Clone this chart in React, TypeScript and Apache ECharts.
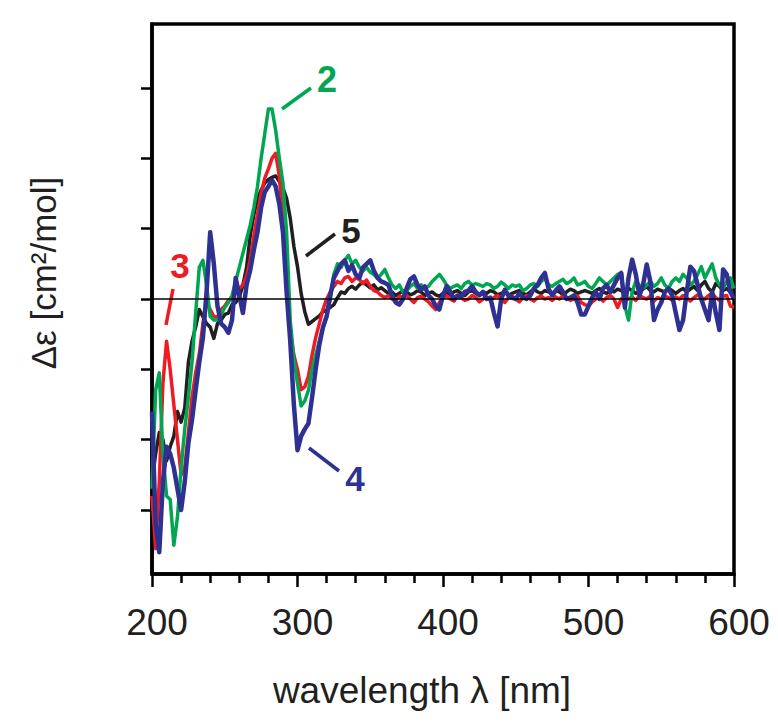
import React, { useEffect, useRef } from "react";
import * as echarts from "echarts";

// wavelength grid: 200 .. 600 nm, 2.5 nm step (161 points)
const LAMBDA_START = 200;
const LAMBDA_STEP = 2.5;

// Δε values (arbitrary units, tick spacing = 1), 10 per row
const curve5Black = [
  -2.6, -2.2, -1.9, -2.0, -2.3, -2.1, -1.95, -1.6, -1.75, -1.55,
  -0.9, -0.6, -0.4, -0.15, -0.25, -0.35, -0.4, -0.56, -0.35, -0.3,
  -0.22, -0.2, -0.08, -0.05, 0.03, 0.2, 0.45, 0.9, 1.2, 1.42,
  1.55, 1.65, 1.7, 1.73, 1.75, 1.67, 1.58, 1.43, 1.15, 0.75,
  0.46, 0.08, -0.18, -0.36, -0.32, -0.28, -0.24, -0.18, -0.16, -0.12,
  -0.08, 0.02, 0.1, 0.08, 0.15, 0.18, 0.14, 0.2, 0.24, 0.2,
  0.16, 0.2, 0.13, 0.16, 0.12, 0.08, 0.1, 0.05, 0.08, 0.12,
  0.1, 0.06, 0.08, 0.12, 0.1, 0.05, 0.08, 0.1, 0.06, 0.04,
  0.08, 0.1, 0.06, 0.1, 0.12, 0.08, 0.05, 0.1, 0.12, 0.08,
  0.06, 0.1, 0.08, 0.12, 0.1, 0.06, 0.08, 0.1, 0.05, 0.08,
  0.1, 0.12, 0.08, 0.06, 0.1, 0.14, 0.1, 0.08, 0.12, 0.1,
  0.08, 0.12, 0.1, 0.06, 0.1, 0.14, 0.12, 0.08, 0.1, 0.12,
  0.1, 0.08, 0.12, 0.15, 0.1, 0.08, 0.12, 0.1, 0.14, 0.12,
  0.1, 0.15, 0.12, 0.08, 0.1, 0.14, 0.18, 0.12, 0.1, 0.14,
  0.12, 0.1, 0.15, 0.12, 0.08, 0.12, 0.15, 0.1, 0.14, 0.18,
  0.12, 0.2, 0.25, 0.15, 0.1, 0.22, 0.18, 0.12, 0.15, 0.1,
  0.08,
];

const curve3Red = [
  -2.8, -3.55, -2.6, -1.2, -0.6, -1.0, -1.5, -2.0, -2.5, -2.4,
  -1.9, -1.4, -1.05, -0.78, -0.35, -0.05, -0.15, -0.25, -0.26, -0.15,
  -0.1, -0.02, 0.0, 0.08, 0.15, 0.2, 0.32, 0.55, 0.9, 1.2,
  1.5, 1.72, 1.85, 2.0, 2.07, 1.75, 1.1, 0.3, -0.45, -0.8,
  -1.0, -1.29, -1.25, -1.1, -0.8, -0.55, -0.35, -0.15, 0.0, 0.1,
  0.18, 0.25, 0.22, 0.3, 0.32, 0.25, 0.3, 0.28, 0.22, 0.27,
  0.18, 0.12, 0.1, 0.05, 0.02, 0.05, 0.0, -0.03, 0.04, 0.02,
  0.05, 0.0, -0.05, 0.02, 0.04, 0.0, -0.04, -0.1, -0.15, -0.05,
  0.02, 0.05, 0.0, -0.03, 0.04, 0.02, -0.02, 0.0, 0.05, 0.02,
  -0.04, 0.0, 0.03, -0.02, 0.02, 0.05, 0.0, -0.05, 0.02, 0.04,
  0.0, -0.04, 0.02, 0.05, 0.0, -0.03, 0.02, 0.04, 0.0, 0.02,
  -0.02, 0.03, 0.0, 0.05, 0.02, -0.02, 0.0, 0.04, -0.05, -0.08,
  -0.1, -0.04, 0.0, 0.03, -0.03, 0.02, 0.05, 0.0, -0.12, 0.0,
  0.04, 0.0, 0.03, -0.02, 0.05, 0.02, 0.0, 0.04, -0.03, 0.02,
  0.0, 0.04, 0.02, -0.02, 0.03, 0.0, 0.05, 0.02, -0.03, 0.02,
  0.06, 0.02, 0.0, 0.05, 0.08, 0.02, -0.02, 0.04, 0.05, -0.1,
  -0.12,
];

const curve2Green = [
  -2.7, -1.3, -1.05, -2.2, -2.8, -2.85, -3.5, -3.1, -2.4, -1.85,
  -1.4, -0.9, -0.2, 0.45, 0.55, 0.2, -0.25, -0.3, -0.3, -0.22,
  -0.12, -0.05, 0.05, 0.25, 0.45, 0.65, 0.85, 1.05, 1.3, 1.6,
  2.0, 2.35, 2.7, 2.7, 2.4, 2.0, 1.65, 0.95, -0.3, -0.85,
  -1.2, -1.52, -1.45, -1.3, -1.0, -0.8, -0.6, -0.42, -0.25, 0.0,
  0.35, 0.5, 0.45, 0.55, 0.62, 0.5, 0.55, 0.45, 0.4, 0.45,
  0.38, 0.35, 0.3, 0.35, 0.42, 0.3, 0.2, 0.15, 0.2, 0.1,
  0.12, 0.18, 0.22, 0.15, 0.2, 0.15, 0.18, 0.25, 0.3, 0.35,
  0.28, 0.2, 0.15, 0.18, 0.2, 0.15, 0.22, 0.25, 0.2, 0.22,
  0.2, 0.18, 0.22, 0.2, 0.15, 0.18, 0.24, 0.2, 0.15, 0.2,
  0.18, 0.2, 0.12, 0.15, 0.2, 0.22, 0.18, 0.25, 0.3, 0.2,
  0.18, 0.22, 0.25, 0.28, 0.22, 0.25, 0.3, 0.2, 0.22, 0.25,
  0.18, 0.15, 0.22, 0.3, 0.25, 0.2, 0.25, 0.3, 0.35, 0.37,
  -0.1, -0.3, 0.1, 0.25, 0.2, 0.15, 0.2, 0.25, 0.18, 0.22,
  0.3, 0.2, 0.15, 0.25, 0.3, 0.25, 0.35, 0.3, 0.2, 0.25,
  0.35, 0.46, 0.3, 0.4, 0.5, 0.3, 0.2, 0.15, 0.25, 0.3,
  0.15,
];

const curve4Blue = [
  -1.6, -3.2, -3.6, -2.6, -2.1, -2.2, -2.4, -2.7, -3.0, -2.6,
  -2.05, -1.72, -1.3, -0.9, -0.55, 0.1, 0.95, 0.5, -0.1, -0.35,
  -0.4, -0.48, -0.3, 0.3, 0.05, -0.2, 0.2, 0.41, 0.7, 0.95,
  1.3, 1.52, 1.6, 1.69, 1.6, 1.35, 0.95, 0.1, -0.6, -1.5,
  -2.15, -1.95, -1.85, -1.77, -1.4, -1.0, -0.65, -0.4, -0.25, 0.05,
  0.3, 0.4, 0.5, 0.55, 0.4, 0.48, 0.35, 0.3, 0.45, 0.5,
  0.55, 0.4, 0.3, 0.25, 0.23, 0.2, 0.05, -0.05, -0.08, 0.0,
  0.15, 0.28, 0.32, 0.2, 0.13, 0.18, 0.05, 0.0, -0.1, -0.15,
  0.05, 0.18, 0.1, 0.0, 0.05, 0.04, 0.1, 0.12, 0.18, 0.1,
  0.05, 0.1, 0.0, 0.02, -0.2, -0.39, 0.0, 0.13, 0.05, 0.02,
  0.0, 0.08, 0.02, 0.0, 0.05, 0.15, 0.2, 0.3, 0.37, 0.15,
  0.05, 0.12, 0.18, 0.1, 0.0, 0.02, 0.05, -0.05, -0.22, -0.22,
  -0.1, 0.02, 0.1, 0.0, 0.15, 0.2, 0.1, 0.2, 0.3, 0.37,
  -0.12, 0.3, 0.56, 0.35, 0.05, 0.2, 0.49, 0.25, -0.3, -0.15,
  -0.05, 0.1, 0.15, 0.05, -0.2, -0.44, -0.3, 0.1, 0.46, 0.4,
  0.2, 0.0, -0.15, -0.3, 0.1, -0.2, -0.44, 0.42, 0.35, 0.1,
  0.0,
];

const xTickValues = [200, 300, 400, 500, 600];
const yTickValues = [-3, -2, -1, 0, 1, 2, 3];

const FONT = "'Liberation Sans', Arial, Helvetica, sans-serif";
const TEXT_COLOR = "#231f20";
const C_GREEN = "#00a651";
const C_RED = "#ed1c24";
const C_BLUE = "#2e3192";
const C_BLACK = "#231f20";

function toPairs(values: number[]) {
  return values.map((v, i) => [LAMBDA_START + i * LAMBDA_STEP, v]);
}

export default function App() {
  const ref = useRef<HTMLDivElement>(null);

  useEffect(() => {
    document.body.style.margin = "0";
    if (!ref.current) return;
    const chart = echarts.init(ref.current, null, { renderer: "svg" });

    const lineSeries = (name: string, values: number[], color: string, width: number, z: number) => ({
      name,
      type: "line",
      data: toPairs(values),
      showSymbol: false,
      symbol: "none",
      lineStyle: { color, width, join: "round" },
      itemStyle: { color },
      z,
      silent: true,
    });

    const annText = (text: string, x: number, y: number, fill: string, size: number) => ({
      type: "text",
      x,
      y,
      style: {
        text,
        fill,
        fontSize: size,
        fontWeight: "bold",
        fontFamily: FONT,
        align: "center",
        verticalAlign: "middle",
        textAlign: "center",
        textVerticalAlign: "middle",
      },
    });

    chart.setOption({
      animation: false,
      backgroundColor: "#ffffff",
      grid: {
        left: 152,
        right: 44,
        top: 24,
        bottom: 153,
        show: true,
        borderColor: "#000",
        borderWidth: 3.5,
        backgroundColor: "transparent",
      },
      xAxis: {
        type: "value",
        min: 200,
        max: 600,
        interval: 100,
        axisLine: { show: true, onZero: false, lineStyle: { color: "#000", width: 3.5 } },
        axisTick: { show: true, inside: false, length: 13, lineStyle: { color: "#000", width: 2.5 } },
        minorTick: { show: true, splitNumber: 5, length: 9, lineStyle: { color: "#000", width: 2.5 } },
        splitLine: { show: false },
        minorSplitLine: { show: false },
        axisLabel: {
          show: true,
          margin: 30,
          fontSize: 37,
          fontFamily: FONT,
          color: TEXT_COLOR,
          padding: [0, 0, 0, 10],
          customValues: xTickValues,
        },
      },
      yAxis: {
        type: "value",
        min: -3.91,
        max: 3.91,
        axisLine: { show: true, onZero: false, lineStyle: { color: "#000", width: 3.5 } },
        axisTick: {
          show: true,
          inside: false,
          length: 11,
          lineStyle: { color: "#000", width: 2.5 },
          customValues: yTickValues,
        },
        axisLabel: { show: false, customValues: yTickValues },
        splitLine: { show: false },
      },
      graphic: [
        {
          type: "text",
          x: 422,
          y: 690,
          style: {
            text: "wavelength λ [nm]",
            fill: TEXT_COLOR,
            fontSize: 37,
            fontFamily: FONT,
            align: "center",
            verticalAlign: "middle",
            textAlign: "center",
            textVerticalAlign: "middle",
          },
        },
        {
          type: "text",
          x: 43,
          y: 273,
          rotation: Math.PI / 2,
          style: {
            text: "Δε [cm²/mol]",
            fill: TEXT_COLOR,
            fontSize: 35,
            fontFamily: FONT,
            align: "center",
            verticalAlign: "middle",
            textAlign: "center",
            textVerticalAlign: "middle",
          },
        },
        // annotation "2"
        { type: "line", shape: { x1: 282, y1: 109, x2: 311, y2: 88 }, style: { stroke: C_GREEN, lineWidth: 3.5 } },
        annText("2", 327, 79, C_GREEN, 36),
        // annotation "5"
        { type: "line", shape: { x1: 306, y1: 256, x2: 335, y2: 234 }, style: { stroke: C_BLACK, lineWidth: 3.5 } },
        annText("5", 351, 230, C_BLACK, 35),
        // annotation "3"
        { type: "line", shape: { x1: 173, y1: 289, x2: 166, y2: 325 }, style: { stroke: C_RED, lineWidth: 3.5 } },
        annText("3", 180, 265, C_RED, 35),
        // annotation "4"
        { type: "line", shape: { x1: 309, y1: 448, x2: 339, y2: 471 }, style: { stroke: C_BLUE, lineWidth: 3.5 } },
        annText("4", 355, 478, C_BLUE, 35),
      ],
      series: [
        lineSeries("5", curve5Black, C_BLACK, 3.5, 2),
        lineSeries("3", curve3Red, C_RED, 3.5, 3),
        lineSeries("2", curve2Green, C_GREEN, 3.5, 4),
        {
          ...lineSeries("4", curve4Blue, C_BLUE, 4.5, 5),
          markLine: {
            silent: true,
            symbol: "none",
            label: { show: false },
            lineStyle: { color: "#000", width: 1.5, type: "solid" },
            data: [{ yAxis: 0 }],
            z: 10,
          },
        },
      ],
    });

    return () => chart.dispose();
  }, []);

  return (
    <div
      ref={ref}
      style={{ position: "fixed", left: 0, top: 0, width: 778, height: 727, background: "#fff" }}
    />
  );
}
